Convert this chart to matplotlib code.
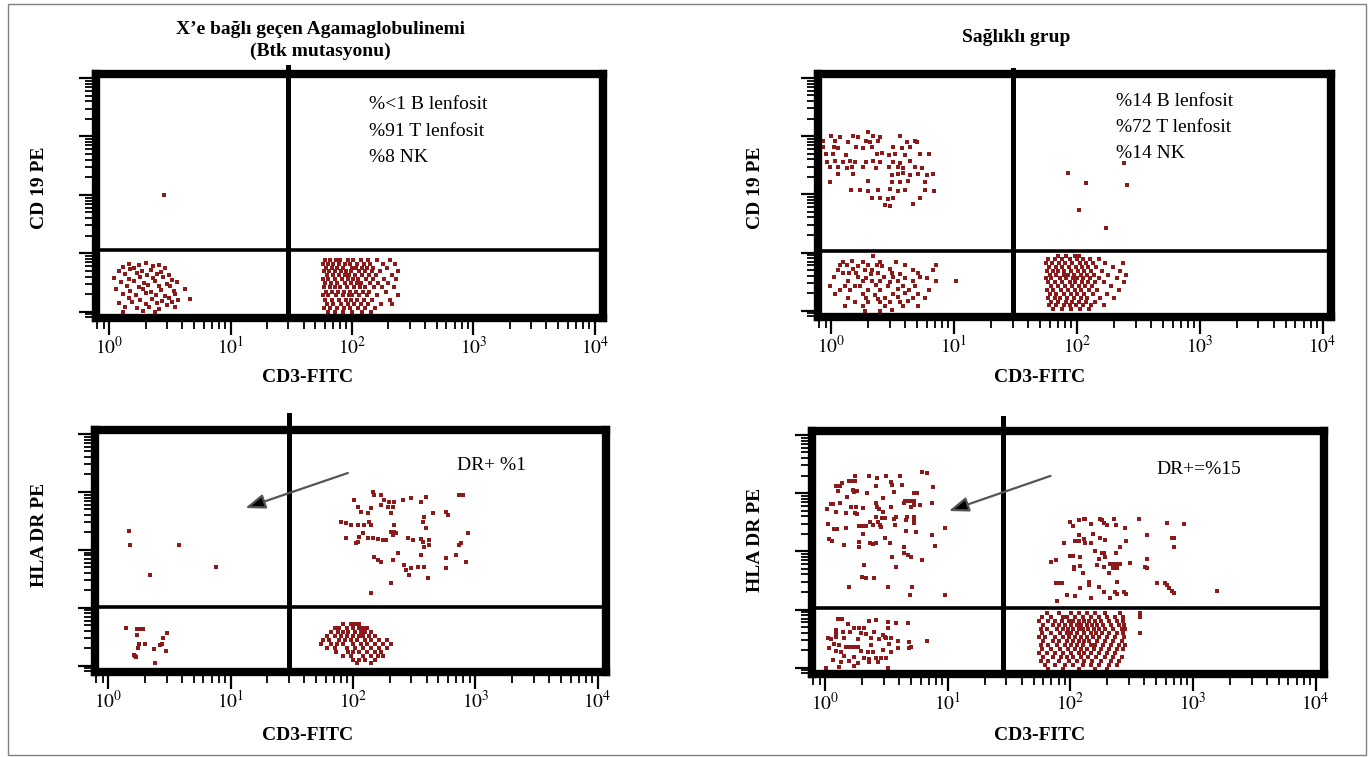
import matplotlib.pyplot as plt
from matplotlib.patches import Rectangle
from matplotlib.ticker import LogLocator, NullFormatter

plt.rcParams['font.family'] = ['Liberation Serif', 'DejaVu Serif']
plt.rcParams['mathtext.fontset'] = 'stix'

dot = '#8c1a1a'

# ---------------- data: (CD3-FITC, PE) ----------------
# gates: x threshold, y threshold
gates_x = [30, 30, 30, 28]
gates_y = [11.4, 10.5, 10.4, 10.7]

# XLA, CD19 / CD3
tl_nk = [(1.45, 6.6), (1.75, 6.3), (2.0, 6.7), (2.6, 6.2), (1.3, 5.8), (1.6, 5.5), (2.3, 6.0), (2.9, 5.6),
         (1.2, 5.0), (1.5, 5.3), (1.85, 4.9), (2.2, 5.1), (2.7, 4.7), (1.35, 4.4), (1.7, 4.6), (2.05, 4.2),
         (2.5, 4.5), (3.1, 4.3), (1.1, 3.8), (1.45, 3.6), (1.8, 4.0), (2.3, 3.7), (2.8, 3.9), (3.3, 3.5),
         (1.25, 3.2), (1.6, 3.4), (1.95, 3.1), (2.4, 3.3), (3.0, 3.0), (3.6, 3.2), (1.4, 2.8), (1.75, 2.6),
         (2.1, 2.9), (2.6, 2.7), (3.2, 2.75), (1.15, 2.4), (1.5, 2.3), (1.9, 2.45), (2.2, 2.2), (2.7, 2.35),
         (3.4, 2.25), (4.2, 2.4), (1.3, 2.0), (1.65, 1.9), (2.0, 2.05), (2.45, 1.95), (2.9, 1.85), (3.5, 2.0),
         (1.45, 1.7), (1.8, 1.6), (2.25, 1.65), (2.75, 1.55), (3.1, 1.7), (3.7, 1.6), (4.6, 1.65),
         (1.2, 1.4), (1.55, 1.45), (2.0, 1.35), (2.5, 1.4), (3.0, 1.3), (3.3, 1.45), (1.35, 1.2), (1.7, 1.15),
         (2.15, 1.2), (2.6, 1.12), (3.5, 1.18), (1.3, 1.0), (1.9, 1.02), (2.4, 0.98)]
tl_b = [(2.85, 100)]
tl_t_rows = [(7.6, [60, 66, 74, 80, 92, 103, 118, 135, 160, 205]),
             (6.6, [58, 63, 70, 78, 88, 97, 110, 125, 142, 180, 228]),
             (5.7, [61, 68, 76, 85, 100, 108, 120, 133, 150, 195]),
             (4.9, [59, 65, 72, 82, 90, 99, 115, 128, 145, 170, 238]),
             (4.2, [62, 70, 79, 87, 95, 106, 122, 137, 158, 212]),
             (3.6, [58, 64, 73, 83, 93, 102, 112, 130, 148, 185, 232]),
             (3.1, [60, 67, 75, 88, 98, 110, 119, 140, 165, 200]),
             (2.6, [59, 66, 72, 80, 91, 104, 117, 127, 152, 178, 222]),
             (2.2, [61, 69, 77, 86, 96, 108, 124, 138, 190]),
             (1.9, [58, 64, 74, 84, 94, 101, 114, 132, 160, 240]),
             (1.6, [60, 68, 78, 89, 99, 111, 126, 145, 205]),
             (1.37, [62, 70, 81, 92, 105, 118, 135, 172, 215]),
             (1.17, [59, 66, 76, 86, 97, 112, 128, 155]),
             (1.0, [63, 72, 84, 100, 120, 143])]

# healthy, CD19 / CD3
tr_b = [(2.0, 1200), (1.0, 990), (1.18, 960), (1.5, 1000), (1.65, 980), (2.2, 1010), (2.5, 970), (3.65, 990),
        (0.85, 810), (1.08, 830), (1.38, 800), (1.93, 820), (2.05, 790), (2.4, 810), (4.1, 800), (4.85, 830),
        (5.0, 790), (0.86, 640), (1.05, 660), (1.14, 630), (1.6, 650), (1.8, 620), (2.15, 640), (3.2, 660),
        (3.75, 630), (4.4, 640), (0.9, 490), (1.03, 500), (1.32, 480), (2.37, 490), (2.6, 510), (2.97, 480),
        (3.3, 495), (4.0, 470), (5.3, 500), (6.2, 490), (0.93, 366), (1.08, 380), (1.25, 360), (1.43, 370),
        (1.57, 355), (1.93, 366), (2.2, 375), (2.5, 360), (3.2, 366), (3.6, 350), (4.4, 370), (0.98, 290),
        (1.14, 300), (1.35, 285), (1.48, 290), (1.8, 295), (2.3, 280), (2.97, 290), (3.47, 300), (3.85, 285),
        (4.85, 290), (5.5, 280), (1.14, 220), (1.5, 225), (3.15, 215), (3.47, 220), (3.85, 230), (4.4, 218),
        (5.1, 222), (6.0, 215), (6.7, 225), (0.98, 165), (2.0, 170), (3.15, 160), (3.6, 165), (4.2, 168),
        (5.85, 160), (1.46, 118), (1.72, 120), (2.0, 115), (2.4, 118), (3.0, 122), (3.5, 116), (4.0, 118),
        (5.85, 120), (6.9, 114), (2.15, 85), (2.5, 88), (2.9, 84), (3.2, 86), (5.3, 85), (2.75, 66),
        (3.0, 64), (4.6, 68)]
tr_nk = [(2.2, 8.6), (1.25, 7.0), (1.48, 7.1), (1.8, 6.9), (2.5, 7.0), (3.35, 6.8), (1.18, 6.0), (1.35, 6.1),
         (1.65, 5.9), (2.0, 6.0), (2.35, 6.1), (2.6, 5.9), (4.0, 6.0), (7.1, 6.1), (1.14, 5.1), (1.5, 5.2),
         (1.9, 5.0), (2.15, 5.1), (3.0, 5.2), (4.6, 5.0), (6.7, 5.1), (1.25, 4.4), (1.4, 4.4), (1.6, 4.4),
         (2.1, 4.3), (2.4, 4.5), (3.15, 4.4), (3.65, 4.3), (5.1, 4.4), (1.06, 3.75), (1.65, 3.8), (1.93, 3.7),
         (2.7, 3.75), (3.2, 3.8), (4.0, 3.7), (5.3, 3.75), (6.0, 3.7), (1.38, 3.2), (1.8, 3.2), (2.15, 3.25),
         (2.5, 3.2), (3.0, 3.15), (3.5, 3.2), (4.6, 3.2), (7.1, 3.2), (10.3, 3.2), (0.98, 2.7), (1.3, 2.7),
         (1.57, 2.65), (1.72, 2.7), (2.3, 2.75), (2.9, 2.7), (3.85, 2.65), (4.85, 2.7), (1.18, 2.3),
         (1.43, 2.3), (2.0, 2.25), (2.5, 2.3), (3.47, 2.35), (4.3, 2.3), (6.2, 2.3), (1.08, 1.95), (1.8, 1.95),
         (2.25, 1.9), (3.2, 1.95), (4.0, 2.0), (5.1, 1.95), (1.38, 1.66), (1.93, 1.66), (2.4, 1.62),
         (2.76, 1.66), (3.5, 1.7), (4.6, 1.66), (5.85, 1.66), (1.57, 1.44), (2.0, 1.44), (2.5, 1.4),
         (3.0, 1.44), (3.65, 1.44), (4.2, 1.48), (1.3, 1.22), (1.8, 1.22), (2.76, 1.2), (3.85, 1.22),
         (5.1, 1.22), (1.9, 1.0), (2.5, 1.0), (3.15, 1.02)]
tr_dp = [(85, 237), (118, 154), (255, 142), (103, 53), (172, 26), (240, 352)]
tr_t_rows = [(8.8, [70, 82, 96, 104]),
             (7.6, [58, 66, 75, 88, 100, 112, 128, 150]),
             (6.6, [56, 63, 72, 80, 92, 106, 118, 135, 170, 235]),
             (5.6, [59, 67, 76, 86, 98, 110, 124, 142, 195]),
             (4.8, [57, 64, 70, 79, 90, 102, 115, 130, 160, 225]),
             (4.1, [60, 68, 78, 84, 95, 108, 120, 138, 180, 250]),
             (3.6, [56, 62, 73, 82, 93, 100, 113, 127, 150, 210]),
             (3.1, [58, 66, 76, 88, 97, 110, 122, 140, 165, 240]),
             (2.65, [61, 70, 80, 91, 104, 117, 132, 190]),
             (2.25, [57, 64, 74, 85, 96, 107, 125, 145, 220]),
             (1.95, [60, 68, 78, 90, 100, 114, 135, 175]),
             (1.67, [58, 66, 73, 83, 95, 108, 120, 155, 200]),
             (1.44, [62, 70, 81, 92, 103, 118, 140]),
             (1.23, [59, 67, 78, 88, 99, 112, 130, 165]),
             (1.05, [64, 75, 90, 105, 125])]

# XLA, HLA-DR / CD3
bl_ul = [(1.47, 212), (1.5, 122), (3.8, 122), (7.6, 51), (2.2, 37)]
bl_ur = [(146, 1000), (148, 889), (169, 889), (179, 729), (196, 673), (216, 673), (255, 729), (297, 789),
         (358, 673), (394, 821), (731, 889), (787, 889), (102, 729), (110, 552), (116, 452), (140, 530),
         (133, 435), (169, 597), (193, 552), (204, 435), (212, 552), (573, 452), (594, 402), (449, 435),
         (379, 371), (372, 304), (80, 304), (88, 292), (96, 270), (110, 270), (123, 270), (135, 304),
         (140, 270), (216, 270), (394, 239), (216, 204), (204, 204), (224, 196), (212, 181), (865, 196),
         (121, 196), (112, 167), (133, 161), (146, 161), (160, 155), (176, 149), (186, 149), (110, 137),
         (106, 132), (88, 161), (281, 161), (308, 149), (358, 155), (372, 137), (416, 149), (379, 112),
         (416, 122), (759, 132), (731, 122), (690, 82), (233, 89), (148, 76), (160, 67), (169, 62),
         (212, 67), (358, 82), (573, 73), (834, 62), (260, 55), (297, 49), (270, 45), (339, 51), (379, 51),
         (573, 49), (286, 37), (408, 33), (204, 27), (140, 18)]
bl_nk = [(1.39, 4.5), (1.71, 4.3), (1.8, 4.3), (1.91, 4.3), (1.71, 3.4), (1.77, 2.38), (1.98, 2.38),
         (3.05, 3.7), (2.83, 3.0), (2.73, 2.38), (2.63, 2.28), (1.74, 2.03), (2.35, 1.95), (2.94, 1.8),
         (1.61, 1.53), (1.65, 1.47), (1.68, 1.42), (2.39, 1.11)]
bl_t_rows = [(5.3, [83, 96, 104, 112]),
             (4.5, [71, 77, 89, 100, 112, 121, 130]),
             (3.8, [66, 75, 83, 92, 104, 116, 126, 140]),
             (3.3, [61, 71, 80, 89, 100, 112, 121, 135, 151]),
             (2.8, [57, 64, 77, 86, 96, 108, 126, 140, 163, 189]),
             (2.4, [55, 66, 74, 83, 100, 116, 130, 151, 176, 204]),
             (2.0, [61, 71, 89, 104, 121, 140, 163, 189]),
             (1.73, [73, 92, 100, 112, 130, 151, 170]),
             (1.47, [83, 96, 121, 140, 160, 176]),
             (1.26, [100, 112, 126, 151]),
             (1.11, [108, 140])]

# healthy, HLA-DR / CD3
br_ul = [(6.1, 2300), (6.8, 2220), (1.76, 1970), (2.29, 1970), (2.66, 1820), (3.15, 1970), (4.1, 1970),
         (1.57, 1615), (1.66, 1615), (1.76, 1615), (1.38, 1493), (1.33, 1325), (1.23, 1325), (2.61, 1325),
         (3.46, 1553), (3.53, 1377), (4.2, 1377), (1.28, 1087), (1.69, 1130), (1.73, 1045), (1.83, 1087),
         (2.2, 1004), (1.51, 857), (2.98, 824), (3.66, 1045), (5.25, 1004), (5.65, 1004), (7.5, 1274),
         (4.5, 731), (4.7, 731), (4.9, 731), (5.3, 731), (1.12, 650), (1.16, 650), (1.33, 676), (1.63, 577),
         (1.79, 577), (2.04, 555), (2.61, 676), (2.66, 577), (2.75, 533), (3.46, 577), (4.35, 676),
         (5.3, 625), (5.9, 625), (1.04, 533), (1.23, 473), (1.49, 455), (1.76, 455), (1.83, 437),
         (2.98, 473), (5.05, 577), (7.4, 676), (2.61, 389), (2.7, 319), (2.81, 283), (2.93, 373), (3.1, 373),
         (3.66, 359), (3.8, 389), (3.73, 283), (4.6, 345), (4.65, 389), (5.3, 389), (5.3, 345), (5.3, 306),
         (2.33, 319), (2.47, 283), (1.06, 294), (1.18, 242), (1.25, 242), (1.9, 272), (2.0, 272), (2.16, 272),
         (1.49, 252), (2.87, 262), (4.6, 223), (5.5, 215), (7.4, 191), (9.4, 252), (2.04, 198), (3.1, 169),
         (1.08, 163), (1.14, 150), (1.43, 128), (1.9, 145), (2.33, 139), (2.47, 134), (2.61, 139), (3.4, 139),
         (4.4, 119), (1.9, 119), (7.8, 123), (4.4, 94), (4.7, 86), (5.05, 80), (3.53, 80), (6.2, 71),
         (2.08, 58), (3.8, 54), (2.0, 36), (2.16, 35), (2.5, 35), (1.57, 24), (3.27, 24), (5.15, 24),
         (4.95, 18), (9.4, 18)]
br_ur = [(99, 319), (117, 345), (129, 359), (131, 359), (174, 359), (181, 345), (188, 306), (198, 283),
         (226, 359), (235, 283), (147, 294), (105, 272), (278, 252), (363, 359), (614, 306), (846, 294),
         (117, 191), (152, 198), (88, 139), (109, 150), (117, 150), (129, 163), (131, 139), (147, 139),
         (174, 169), (191, 156), (284, 150), (421, 191), (675, 169), (700, 169), (700, 119), (253, 119),
         (158, 101), (181, 94), (188, 94), (235, 94), (99, 83), (105, 83), (119, 80), (171, 74), (191, 80),
         (421, 74), (70, 65), (76, 71), (210, 61), (222, 61), (239, 61), (253, 61), (306, 63), (107, 54),
         (107, 50), (119, 56), (164, 58), (188, 54), (222, 52), (239, 52), (406, 54), (421, 52), (126, 42),
         (206, 42), (76, 29), (80, 29), (85, 29), (141, 30), (141, 26), (239, 30), (509, 29), (591, 29),
         (614, 26), (638, 23), (675, 21), (700, 19), (119, 23), (171, 24), (188, 20), (231, 20), (239, 18.5),
         (273, 20), (284, 18.5), (93, 18), (109, 17), (147, 15.8), (210, 15.8), (77, 14), (1574, 21)]
br_nk = [(1.28, 6.9), (1.38, 6.9), (2.29, 6.35), (2.61, 6.6), (3.27, 6.1), (3.8, 5.9), (4.77, 5.9),
         (1.54, 5.6), (1.73, 4.8), (1.9, 4.8), (2.08, 4.8), (3.27, 4.8), (1.23, 4.4), (1.23, 3.8), (1.23, 3.4),
         (1.4, 4.1), (1.6, 4.1), (1.97, 3.95), (2.16, 3.8), (2.52, 4.1), (2.98, 3.65), (3.1, 3.4), (1.06, 3.24),
         (1.12, 3.1), (1.43, 3.24), (1.86, 3.1), (2.38, 3.24), (2.76, 3.1), (3.15, 3.24), (3.46, 3.24),
         (3.95, 2.88), (4.86, 2.77), (6.7, 2.88), (1.18, 2.55), (1.3, 2.45), (1.49, 2.27), (1.6, 2.27),
         (1.73, 2.27), (1.86, 2.27), (2.38, 2.45), (3.33, 2.55), (4.86, 2.18), (5.05, 2.27), (1.08, 2.18),
         (1.23, 1.94), (1.35, 1.86), (1.97, 1.94), (2.25, 1.86), (2.47, 1.86), (2.98, 2.0), (3.46, 1.86),
         (3.95, 2.18), (1.43, 1.59), (1.73, 1.53), (2.08, 1.47), (2.29, 1.41), (2.61, 1.47), (2.87, 1.47),
         (3.15, 1.47), (1.16, 1.36), (1.35, 1.25), (1.57, 1.3), (1.86, 1.2), (2.29, 1.25), (2.71, 1.25),
         (1.02, 0.99), (1.3, 1.03), (1.73, 1.07), (3.27, 0.99)]
br_t_rows = [(8.7, [64, 80, 101, 117, 136, 158, 190, 255, 369]),
             (7.4, [59, 69, 87, 93, 109, 126, 147, 171, 198, 231, 268, 369]),
             (6.35, [55, 66, 75, 85, 97, 105, 117, 130, 142, 158, 176, 205, 240, 268]),
             (5.4, [60, 72, 80, 90, 101, 113, 122, 136, 150, 165, 184, 214, 249, 275]),
             (4.6, [57, 64, 77, 87, 95, 105, 117, 126, 140, 155, 171, 190, 222, 262, 280]),
             (3.95, [59, 69, 82, 93, 101, 113, 130, 147, 162, 180, 205, 240, 270, 372]),
             (3.4, [55, 62, 75, 87, 97, 109, 122, 136, 152, 171, 198, 231, 275]),
             (2.88, [60, 72, 80, 93, 105, 117, 130, 142, 165, 190, 222, 262]),
             (2.45, [57, 66, 77, 90, 101, 113, 126, 147, 158, 184, 214, 249, 280]),
             (2.1, [59, 69, 82, 95, 109, 122, 136, 155, 176, 205, 240, 270]),
             (1.79, [55, 64, 75, 87, 101, 117, 130, 147, 171, 198, 231]),
             (1.53, [60, 72, 84, 93, 105, 122, 140, 162, 190, 222, 262]),
             (1.3, [57, 66, 80, 97, 113, 130, 150, 176, 214, 249]),
             (1.11, [62, 75, 90, 105, 126, 147, 171, 205, 240]),
             (0.95, [66, 87, 117, 158, 198])]

tick_labels = ['$10^{0}$', '$10^{1}$', '$10^{2}$', '$10^{3}$', '$10^{4}$']
decades = [1, 10, 100, 1000, 10000]


def pairs_xy(pairs):
    return [p[0] for p in pairs], [p[1] for p in pairs]


def rows_xy(rows):
    xs, ys = [], []
    for y, row in rows:
        xs += row
        ys += [y] * len(row)
    return xs, ys


W, H = 1371, 757
fig = plt.figure(figsize=(W / 100, H / 100), dpi=100)


def panel(left, top, right, bottom, gx, gy, gate_top):
    ax = fig.add_axes([left / W, 1 - bottom / H, (right - left) / W, (bottom - top) / H])
    ax.set_xscale('log')
    ax.set_yscale('log')
    ax.set_xlim(0.78, 1.17e4)
    ax.set_ylim(0.78, 1.17e4)
    for s in ax.spines.values():
        s.set_linewidth(6)
    ax.axvline(gx, ymin=0, ymax=gate_top, color='black', lw=3.6, clip_on=False, zorder=3)
    ax.axhline(gy, color='black', lw=2.6, zorder=3)
    ax.set_xticks(decades)
    ax.set_xticklabels(tick_labels)
    ax.xaxis.set_minor_locator(LogLocator(base=10, subs=range(2, 10), numticks=12))
    ax.yaxis.set_minor_locator(LogLocator(base=10, subs=range(2, 10), numticks=12))
    ax.xaxis.set_minor_formatter(NullFormatter())
    ax.yaxis.set_major_formatter(NullFormatter())
    ax.yaxis.set_minor_formatter(NullFormatter())
    ax.tick_params(which='major', direction='out', length=12, width=1.6, labelsize=14, pad=1)
    ax.tick_params(which='minor', direction='out', length=8, width=1.3)
    return ax


def dots(ax, xs, ys, size=2.2):
    ax.plot(xs, ys, 's', color=dot, markersize=size, markeredgewidth=0, zorder=2)


arrow_style = dict(arrowstyle='-|>,head_length=1.2,head_width=0.45', mutation_scale=10,
                   ec='#555555', fc='black', lw=1.6)

# top left
ax1 = panel(96, 74, 603, 318, gates_x[0], gates_y[0], 1.03)
dots(ax1, *pairs_xy(tl_nk))
dots(ax1, *pairs_xy(tl_b))
dots(ax1, *rows_xy(tl_t_rows), size=2.9)
for i, t in enumerate(['%<1 B lenfosit', '%91 T lenfosit', '%8 NK']):
    ax1.text(0.538, 0.873 - i * 0.107, t, transform=ax1.transAxes, fontsize=14, va='center')

# top right
ax2 = panel(818, 74, 1331, 317, gates_x[1], gates_y[1], 1.016)
dots(ax2, *pairs_xy(tr_b))
dots(ax2, *pairs_xy(tr_nk))
dots(ax2, *pairs_xy(tr_dp))
dots(ax2, *rows_xy(tr_t_rows), size=2.9)
for i, t in enumerate(['%14 B lenfosit', '%72 T lenfosit', '%14 NK']):
    ax2.text(0.581, 0.887 - i * 0.107, t, transform=ax2.transAxes, fontsize=14, va='center')

# bottom left
ax3 = panel(95, 430, 606, 672, gates_x[2], gates_y[2], 1.06)
dots(ax3, *pairs_xy(bl_ul))
dots(ax3, *pairs_xy(bl_ur))
dots(ax3, *pairs_xy(bl_nk))
dots(ax3, *rows_xy(bl_t_rows), size=2.7)
ax3.text(0.708, 0.855, 'DR+ %1', transform=ax3.transAxes, fontsize=14, va='center')
ax3.annotate('', xy=(0.289, 0.674), xytext=(0.500, 0.826), xycoords='axes fraction',
             arrowprops=arrow_style)

# bottom right
ax4 = panel(812, 431, 1324, 674, gates_x[3], gates_y[3], 1.055)
dots(ax4, *pairs_xy(br_ul))
dots(ax4, *pairs_xy(br_ur))
dots(ax4, *pairs_xy(br_nk))
dots(ax4, *rows_xy(br_t_rows), size=2.9)
ax4.text(0.672, 0.84, 'DR+=%15', transform=ax4.transAxes, fontsize=14, va='center')
ax4.annotate('', xy=(0.262, 0.667), xytext=(0.471, 0.819), xycoords='axes fraction',
             arrowprops=arrow_style)


def ftext(x, y, s, **kw):
    fig.text(x / W, 1 - y / H, s, ha='center', va='center', fontsize=14, fontweight='bold', **kw)


ftext(320, 29, 'X\u2019e bağlı geçen Agamaglobulinemi')
ftext(320, 51, '(Btk mutasyonu)')
ftext(1016, 37, 'Sağlıklı grup')
ftext(40, 188, 'CD 19 PE', rotation=90)
ftext(755, 188, 'CD 19 PE', rotation=90)
ftext(40, 535, 'HLA DR PE', rotation=90)
ftext(755, 540, 'HLA DR PE', rotation=90)
for x, y in [(308, 378), (1040, 378), (308, 736), (1040, 736)]:
    ftext(x, y, 'CD3-FITC')

fig.patches.append(Rectangle((8 / W, 2 / H), 1358 / W, 751 / H, transform=fig.transFigure,
                             fill=False, ec='#808080', lw=1))

fig.savefig('out.png', dpi=100)
